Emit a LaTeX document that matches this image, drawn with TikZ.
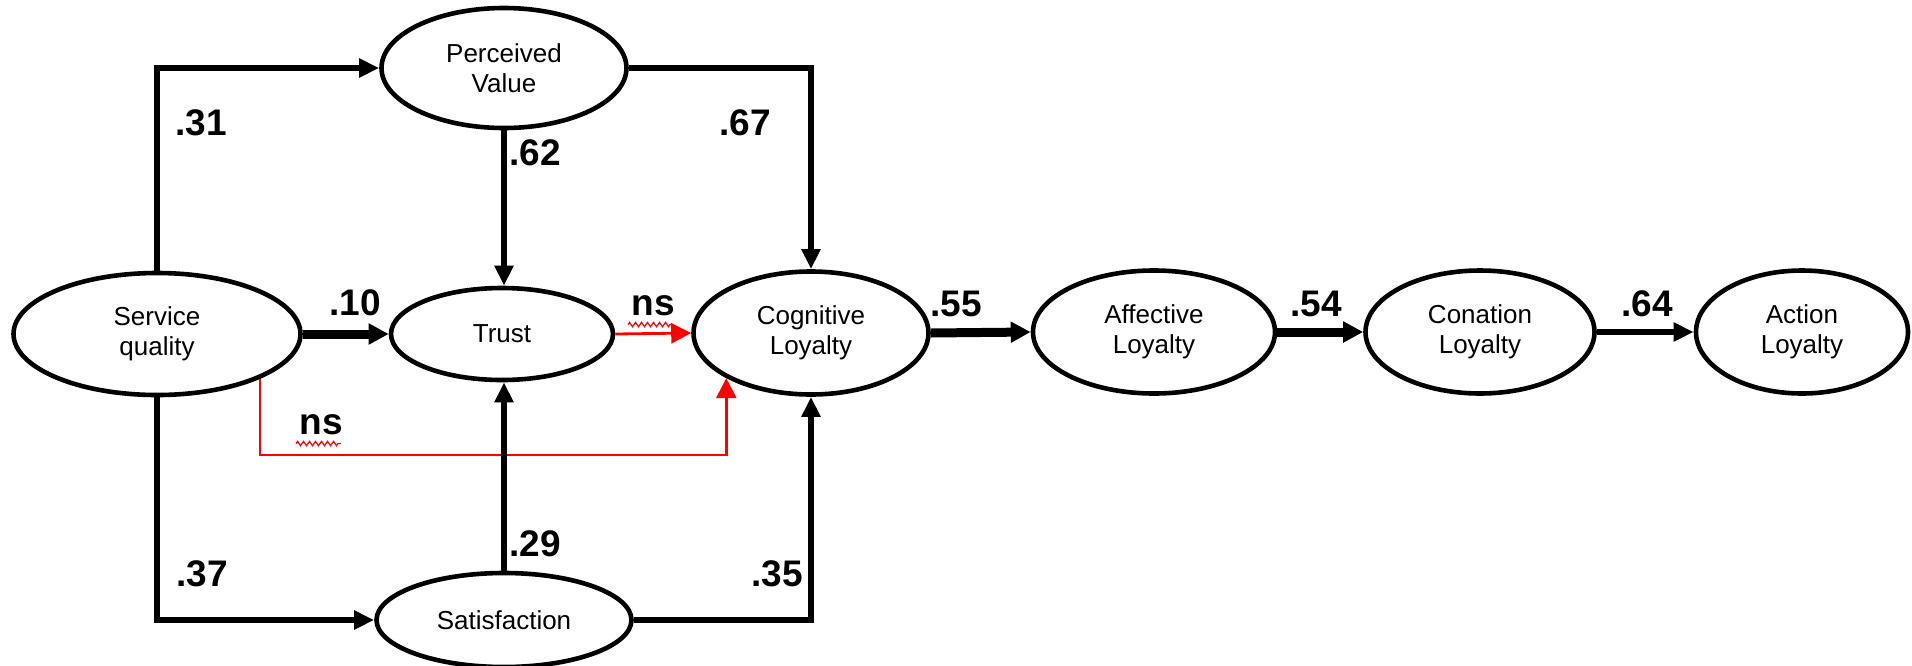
\documentclass[tikz,border=0pt]{standalone}
\usepackage{fontspec}
\setmainfont{Liberation Sans}
\usetikzlibrary{shapes.geometric,arrows.meta,decorations.pathmorphing}
\begin{document}
\begin{tikzpicture}[x=0.5pt,y=-0.5pt,
  lat/.style={ellipse, draw, line width=2.3pt, inner sep=0pt, align=center, font=\fontsize{13}{15}\selectfont},
  coef/.style={inner sep=0pt, font=\fontsize{18.5}{20}\selectfont\bfseries},
  conn/.style={line width=3pt, -{Triangle[length=10pt,width=9pt]}},
  thickconn/.style={line width=4.5pt, -{Triangle[length=10pt,width=10pt]}},
  redconn/.style={red, line width=1.4pt, -{Triangle[length=10pt,width=10pt]}},
  wavy/.style={red, line width=0.6pt, decorate, decoration={zigzag, amplitude=1.1pt, segment length=3pt}}
]
\useasboundingbox (0,0) rectangle (1912,665);
\node[lat, minimum width=143.5pt, minimum height=61pt] (sq) at (157,334) {Service\\quality};
\node[lat, minimum width=122.5pt, minimum height=60pt] (pv) at (504,68) {Perceived\\Value};
\node[lat, minimum width=111pt, minimum height=46pt] (trust) at (502,334) {Trust};
\node[lat, minimum width=117.5pt, minimum height=61.5pt] (cog) at (811,333) {Cognitive\\Loyalty};
\node[lat, minimum width=127.5pt, minimum height=47pt] (sat) at (504,620) {Satisfaction};
\node[lat, minimum width=121pt, minimum height=61.5pt] (aff) at (1154,332) {Affective\\Loyalty};
\node[lat, minimum width=114.5pt, minimum height=61.5pt] (con) at (1480,332) {Conation\\Loyalty};
\node[lat, minimum width=106pt, minimum height=61.5pt] (act) at (1802,332) {Action\\Loyalty};

\coordinate (rl) at (0,455);
\draw[conn] (sq.north) |- (pv.west);
\draw[conn] (pv.east) -| (cog.north);
\draw[conn] (pv.south) -- (pv.south |- trust.north);
\draw[thickconn] (sq.east) -- (trust.west);
\draw[redconn] (trust.east) -- (cog.west);
\draw[red, line width=1.3pt, -{Triangle[length=10pt,width=10pt]}] (sq.south east) |- (cog.south west |- rl) -- (cog.south west);
\draw[conn] (sq.south) |- (sat.west);
\draw[conn] (sat.north) -- (sat.north |- trust.south);
\draw[conn] (sat.east) -| (cog.south);
\draw[thickconn] (cog.east) -- (aff.west);
\draw[thickconn] (aff.east) -- (con.west);
\draw[conn] (con.east) -- (act.west);

\node[coef] (l31) at (201,123) {.31};
\node[coef] (l62) at (535,153) {.62};
\node[coef] (l67) at (745,123) {.67};
\node[coef] (l10) at (355,303) {.10};
\node[coef] (ns1) at (653,306) {ns};
\node[coef] (l55) at (956,304) {.55};
\node[coef] (l54) at (1316,304) {.54};
\node[coef] (l64) at (1647,304) {.64};
\node[coef] (ns2) at (321,425) {ns};
\node[coef] (l29) at (535,544) {.29};
\node[coef] (l37) at (202,574) {.37};
\node[coef] (l35) at (777,574) {.35};

\draw[wavy] ([shift={(-3,8)}]ns1.south west) -- ([shift={(-2,8)}]ns1.south east);
\draw[wavy] ([shift={(-3,8)}]ns2.south west) -- ([shift={(-2,8)}]ns2.south east);
\end{tikzpicture}
\end{document}
